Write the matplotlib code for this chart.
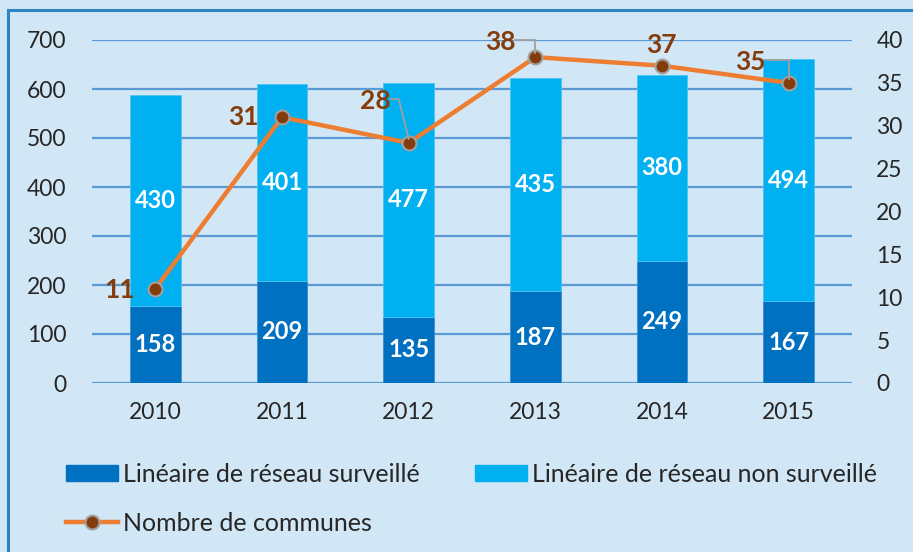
import matplotlib
matplotlib.use("Agg")
import matplotlib.pyplot as plt
from matplotlib.lines import Line2D
from matplotlib.patches import Patch, Rectangle

years = ["2010", "2011", "2012", "2013", "2014", "2015"]
surveille = [158, 209, 135, 187, 249, 167]
non_surveille = [430, 401, 477, 435, 380, 494]
communes = [11, 31, 28, 38, 37, 35]

left_ticks = [0, 100, 200, 300, 400, 500, 600, 700]
right_ticks = [0, 5, 10, 15, 20, 25, 30, 35, 40]

# label offsets in pixels (dx, dy) relative to the point, and leader flag
label_offsets = [(-36, -1), (-39, 0), (-33, 42), (-35, 15), (-1, 21), (-38, 21)]
leaders = [False, False, True, True, False, True]

plt.rcParams['font.family'] = ['Lato', 'DejaVu Sans']

BG = "#d2e7f5"
DARK = "#0070c0"
LIGHT = "#00b0f0"
ORANGE = "#ed7d31"
BROWN = "#843c0c"
GRID = "#5b9bd5"
TXT = "#262626"

fig = plt.figure(figsize=(9.13, 5.52), dpi=100)
fig.patch.set_facecolor(BG)
W, H = 913, 552

# border
fig.add_artist(Rectangle((8 / W, -0.1), 1.2, (H - 10) / H + 0.1, transform=fig.transFigure,
                         fill=False, edgecolor="#2a86c0", linewidth=2.2))

ax = fig.add_axes([92 / W, 1 - 383 / H, (852 - 92) / W, (383 - 40) / H])
ax.set_facecolor("none")
x = list(range(len(years)))
ax.set_xlim(-0.5, len(years) - 0.5)
ax.set_ylim(0, 700)
ax.set_yticks(left_ticks)
ax.yaxis.grid(True, color=GRID, linewidth=1.6)
ax.set_axisbelow(True)
for s in ax.spines.values():
    s.set_visible(False)
ax.tick_params(axis='both', length=0, labelsize=16.5, colors=TXT)
ax.tick_params(axis='y', pad=18.5)
ax.tick_params(axis='x', pad=14)
ax.set_xticks(x)
ax.set_xticklabels(years)

bw = 0.4
b1 = ax.bar(x, surveille, width=bw, color=DARK, edgecolor="#3d8fd0", linewidth=0.6, zorder=2)
b2 = ax.bar(x, non_surveille, width=bw, bottom=surveille, color=LIGHT, edgecolor="#4cc5f2",
            linewidth=0.6, zorder=2)
for i in x:
    ax.text(i, surveille[i] / 2, str(surveille[i]), ha='center', va='center',
            color='white', fontsize=17, fontweight='bold', zorder=3)
    ax.text(i, surveille[i] + non_surveille[i] / 2, str(non_surveille[i]), ha='center',
            va='center', color='white', fontsize=17, fontweight='bold', zorder=3)

ax2 = ax.twinx()
ax2.set_ylim(0, 40)
ax2.set_yticks(right_ticks)
for s in ax2.spines.values():
    s.set_visible(False)
ax2.tick_params(axis='y', length=0, labelsize=16.5, colors=TXT, pad=17.5)
ax2.plot(x, communes, color=ORANGE, linewidth=3.2, marker='o', markersize=10,
         markerfacecolor=BROWN, markeredgecolor="#a0a0a0", markeredgewidth=1.5, zorder=5)

fig.canvas.draw()
for i in x:
    px, py = ax2.transData.transform((i, communes[i]))
    dx, dy = label_offsets[i]
    tx, ty = px + dx, py + dy
    fig.text(tx / W, ty / H, str(communes[i]), ha='center', va='center', color=BROWN,
             fontsize=19, fontweight='bold')
    if leaders[i]:
        lx0 = tx + 15
        lx1 = px - 10 if i == 2 else px
        fig.add_artist(Line2D([lx0 / W, lx1 / W, px / W], [(ty + 2) / H, (ty + 2) / H, (py + 4) / H],
                              transform=fig.transFigure, color="#a0a0a0", linewidth=1.3, zorder=4))

handles = [Patch(facecolor=DARK, edgecolor=DARK),
           Line2D([0], [0], color=ORANGE, linewidth=3.2, marker='o', markersize=10,
                  markerfacecolor=BROWN, markeredgecolor="#a0a0a0", markeredgewidth=1.5),
           Patch(facecolor=LIGHT, edgecolor=LIGHT)]
labels = ["Linéaire de réseau surveillé", "Nombre de communes", "Linéaire de réseau non surveillé"]
leg = fig.legend(handles, labels, loc='upper left', bbox_to_anchor=(66 / W, 1 - 463 / H),
                 ncol=2, frameon=False, fontsize=18, handlelength=2.08, handleheight=0.6,
                 handletextpad=0.2, columnspacing=2.2, labelspacing=1.03, labelcolor=TXT,
                 borderpad=0, borderaxespad=0)

fig.savefig("out.png", dpi=100, facecolor=BG)
